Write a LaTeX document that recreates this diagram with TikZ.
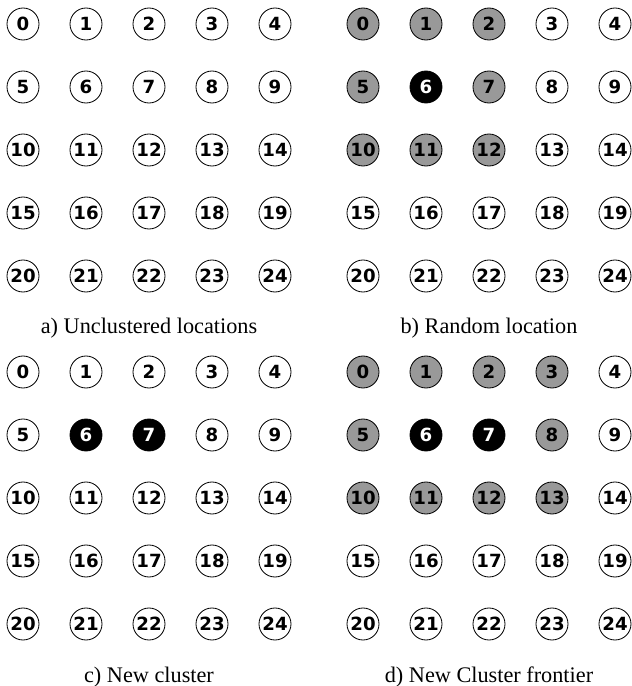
\documentclass[tikz,border=0pt]{standalone}
\usepackage{fontspec}
\setmainfont{Liberation Serif}
\newfontfamily\locfont{DejaVu Sans}
\usepackage{tikz}
\usetikzlibrary{positioning, calc}

\begin{document}
\begin{tikzpicture}[
                x=0.03cm, y=-0.03cm,
                loc/.style={
                    circle, draw=black, line width=0.7pt,
                    minimum size=0.96cm,
                    inner sep=0pt,
                    font=\locfont\bfseries\fontsize{15.5}{15.5}\selectfont
                },
                caption/.style={
                    anchor=base,
                    font=\fontsize{19}{21}\selectfont,
                    text=black
                }
            ]

            \useasboundingbox (0,0) rectangle (631,686);

            % --- 4 Gitter: Name / Versatz / Clustergroesse / Frontier ---
            \foreach \p/\dx/\dy/\last/\front in {a/0/0/0/0, b/340/0/1/1, c/0/348/2/0, d/340/348/2/1} {
                \foreach \n in {0,...,24} {
                    \pgfmathtruncatemacro\c{mod(\n,5)}
                    \pgfmathtruncatemacro\r{div(\n,5)}
                    % Cluster: ab Knoten 6 nach rechts
                    \pgfmathtruncatemacro\inc{(\r==1) && (\c>=1) && (\c<=\last)}
                    % Nachbarn des Clusters
                    \pgfmathtruncatemacro\nb{(\front==1) && (abs(\r-1)<=1) && (\c<=\last+1)}
                    \ifnum\inc=1
                        \def\fc{black}\def\tc{white}
                    \else\ifnum\nb=1
                        \def\fc{black!40}\def\tc{black}
                    \else
                        \def\fc{white}\def\tc{black}
                    \fi\fi
                    \node[loc, fill=\fc, text=\tc] (\p\n) at (\dx+23+63*\c, \dy+24+63*\r) {\n};
                }
            }

            % --- Beschriftungen ---
            \node[caption] (capa) at (149,333) {a) Unclustered locations};
            \node[caption] (capb) at (489,333) {b) Random location};
            \node[caption] (capc) at (149,682) {c) New cluster};
            \node[caption] (capd) at (489,682) {d) New Cluster frontier};

        \end{tikzpicture}
\end{document}
